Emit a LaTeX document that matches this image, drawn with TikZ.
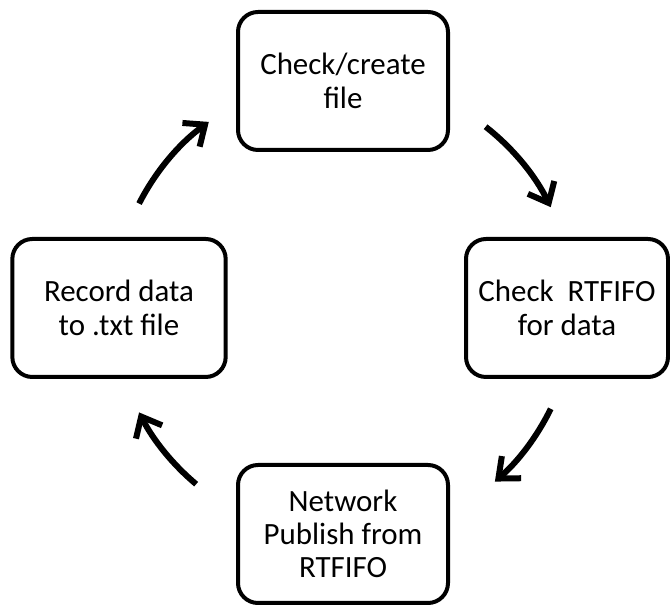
\documentclass[tikz,border=0pt]{standalone}
\usepackage{fontspec}
\setmainfont{Carlito}
\usetikzlibrary{arrows.meta,calc}

\begin{document}
\begin{tikzpicture}[x=0.75pt, y=0.75pt,
  stepbox/.style={draw=black, line width=3pt, rounded corners=15pt,
    minimum width=157.5pt, minimum height=103.5pt, align=center,
    font=\fontsize{23.2}{25}\selectfont},
  cycarrow/.style={line width=4.5pt, -{Straight Barb[length=13pt,width=22pt]}}]
  \useasboundingbox[fill=white] (0,0) rectangle (670,605);

  \node[stepbox] (check) at (343,524) {Check/create\\file};
  \node[stepbox, minimum width=151.5pt] (fifo) at (567,297) {Check~ RTFIFO\\for data};
  \node[stepbox] (publish) at (343,71) {Network\\Publish from\\RTFIFO};
  \node[stepbox, minimum width=160pt] (record) at (119,297) {Record data\\to .txt file};

  \coordinate (c) at (344,297);
  \coordinate (a1) at ($(c)+(52:172.5pt)$);
  \coordinate (a2) at ($(c)+(-26:172.5pt)$);
  \coordinate (a3) at ($(c)+(230:172.5pt)$);
  \coordinate (a4) at ($(c)+(153:172.5pt)$);

  \draw[cycarrow] (a1) arc[start angle=52, end angle=26, radius=172.5pt];
  \draw[cycarrow] (a2) arc[start angle=-26, end angle=-49, radius=172.5pt];
  \draw[cycarrow] (a3) arc[start angle=230, end angle=207, radius=172.5pt];
  \draw[cycarrow] (a4) arc[start angle=153, end angle=126, radius=172.5pt];
\end{tikzpicture}
\end{document}
